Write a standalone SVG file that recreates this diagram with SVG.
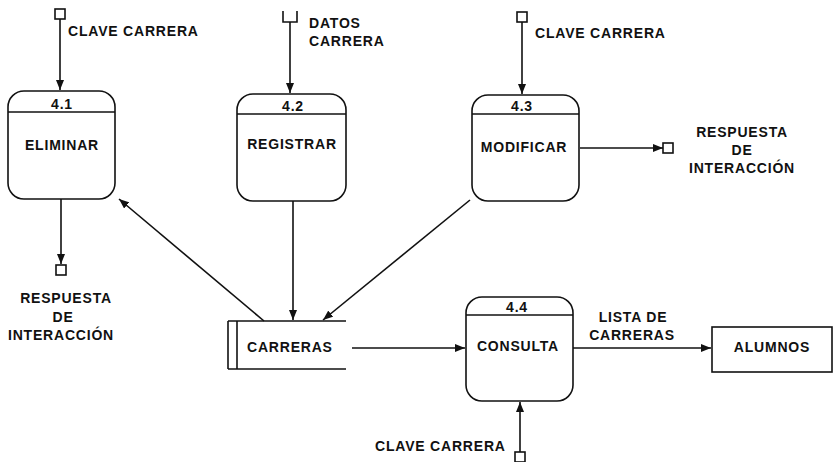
<svg xmlns="http://www.w3.org/2000/svg" width="835" height="462" viewBox="0 0 835 462">
<style>
text{font-family:"Liberation Sans",Arial,sans-serif;font-weight:bold;font-size:14px;letter-spacing:0.8px;fill:#111}
.c{text-anchor:middle}
.box{fill:#fff;stroke:#111;stroke-width:1.6}
.ln{fill:none;stroke:#111;stroke-width:1.6}
.fl{fill:none;stroke:#111;stroke-width:1.6;marker-end:url(#ah)}
</style>
<defs>
<marker id="ah" markerUnits="userSpaceOnUse" markerWidth="10" markerHeight="8" refX="10" refY="4" orient="auto">
<path d="M0,0 L10,4 L0,8 z" fill="#111"/>
</marker>
</defs>
<rect width="835" height="462" fill="#fff"/>

<g id="p41">
<rect class="box" x="8" y="91" width="107" height="108" rx="16"/>
<line class="ln" x1="8" y1="112" x2="115" y2="112"/>
<text class="c" x="62" y="109">4.1</text>
<text class="c" x="62" y="150">ELIMINAR</text>
</g>
<g id="p42">
<rect class="box" x="237" y="94" width="109" height="107" rx="16"/>
<line class="ln" x1="237" y1="114" x2="346" y2="114"/>
<text class="c" x="293" y="111">4.2</text>
<text class="c" x="292" y="149">REGISTRAR</text>
</g>
<g id="p43">
<rect class="box" x="472" y="95" width="107" height="106" rx="16"/>
<line class="ln" x1="472" y1="114" x2="579" y2="114"/>
<text class="c" x="522" y="111">4.3</text>
<text class="c" x="524" y="152">MODIFICAR</text>
</g>
<g id="p44">
<rect class="box" x="466" y="297" width="107" height="104" rx="16"/>
<line class="ln" x1="466" y1="315" x2="573" y2="315"/>
<text class="c" x="517" y="312">4.4</text>
<text class="c" x="518" y="351">CONSULTA</text>
</g>
<g id="carreras">
<line class="ln" x1="228" y1="321" x2="228" y2="369"/>
<line class="ln" x1="237" y1="321" x2="237" y2="369"/>
<line class="ln" x1="228" y1="321" x2="346" y2="321"/>
<line class="ln" x1="228" y1="369" x2="346" y2="369"/>
<text x="247" y="352">CARRERAS</text>
</g>
<g id="alumnos">
<rect class="box" x="712" y="327" width="120" height="45"/>
<text class="c" x="772" y="352">ALUMNOS</text>
</g>

<g id="in41">
<rect class="box" x="55" y="9" width="10" height="10"/>
<text x="68" y="36">CLAVE CARRERA</text>
</g>
<g id="in42">
<path class="ln" d="M283,11 V22 H297 V11"/>
<text x="309" y="28">DATOS</text>
<text x="309" y="46">CARRERA</text>
</g>
<g id="in43">
<rect class="box" x="517" y="12" width="10" height="10"/>
<text x="535" y="38">CLAVE CARRERA</text>
</g>
<g id="out43">
<rect class="box" x="663" y="143" width="10" height="10"/>
<text class="c" x="742" y="137">RESPUESTA</text>
<text class="c" x="742" y="155">DE</text>
<text class="c" x="742" y="173">INTERACCIÓN</text>
</g>
<g id="out41">
<rect class="box" x="56" y="265" width="10" height="10"/>
<text class="c" x="66" y="303">RESPUESTA</text>
<text class="c" x="63" y="322">DE</text>
<text class="c" x="61" y="340">INTERACCIÓN</text>
</g>
<g id="in44">
<rect class="box" x="515" y="452" width="10" height="10"/>
<text x="375" y="451">CLAVE CARRERA</text>
</g>

<g id="connectors">
<path class="fl" d="M60,19 V90"/>
<path class="fl" d="M290,22 V93"/>
<path class="fl" d="M522,22 V94"/>
<path class="fl" d="M580,148 H663"/>
<path class="fl" d="M61,199 V264"/>
<path class="fl" d="M264,321 L119,199"/>
<path class="fl" d="M293,201 V320"/>
<path class="fl" d="M470,200 L323,320"/>
<path class="fl" d="M352,348 H465"/>
<path class="fl" d="M573,348 H711"/>
<path class="fl" d="M520,452 V402"/>
<text class="c" x="633" y="322">LISTA DE</text>
<text class="c" x="632" y="340">CARRERAS</text>
</g>
</svg>
